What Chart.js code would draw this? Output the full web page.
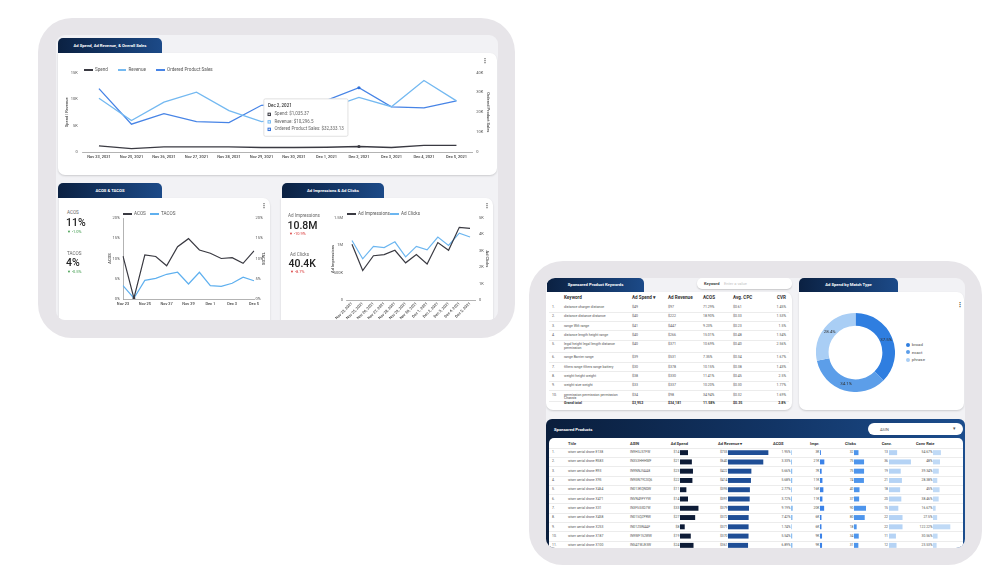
<!DOCTYPE html>
<html>
<head>
<meta charset="utf-8">
<script src="https://cdn.jsdelivr.net/npm/chart.js@4.4.1/dist/chart.umd.min.js"></script>
<style>
  html, body { margin: 0; padding: 0; background: #fff; }
  body { width: 1000px; height: 571px; position: relative; overflow: hidden; font-family: Roboto, "Noto Sans", sans-serif; color: #333; }
  .frame { position: absolute; background: #e7e5e9; border-radius: 34px; }
  .screen { position: absolute; background: #f2f2f5; border-radius: 9px; }
  .layer { position: absolute; left: 0; top: 0; width: 1000px; height: 571px; }
  #layerA { clip-path: inset(35px 502px 251px 56px round 9px); }
  #layerB { clip-path: inset(278px 35px 23px 546px round 9px); }
  .tab { position: absolute; height: 15px; background: linear-gradient(90deg, #0b2142, #1c4a88); color: #fff; font-weight: 700; font-size: 4.2px; line-height: 15px; text-align: center; border-radius: 5px 5px 0 0; }
  .card { position: absolute; background: #fff; border-radius: 0 7px 7px 7px; box-shadow: 0 1px 2px rgba(0,0,0,.16); }
  .t { position: absolute; white-space: nowrap; }
  .sep { position: absolute; height: 0.6px; background: #ececec; }
  canvas { position: absolute; }
</style>
</head>
<body>
<div class="frame" style="left:38px;top:18px;width:477px;height:320px"></div>
<div class="screen" style="left:56px;top:35px;width:442px;height:285px"></div>
<div class="frame" style="left:529px;top:261px;width:453px;height:304px"></div>
<div class="screen" style="left:546px;top:278px;width:419px;height:270px"></div>

<div id="layerA" class="layer">
  <div class="tab" style="left:58px;top:38px;width:104px">Ad Spend, Ad Revenue, &amp; Overall Sales</div>
  <div class="card" style="left:58px;top:53px;width:439px;height:122px"></div>
  <div class="tab" style="left:58px;top:183px;width:104px">ACOS &amp; TACOS</div>
  <div class="card" style="left:59px;top:198px;width:211px;height:140px"></div>
  <div class="tab" style="left:282px;top:183px;width:102px">Ad Impressions &amp; Ad Clicks</div>
  <div class="card" style="left:281px;top:198px;width:212px;height:140px"></div>
  <canvas id="c1" width="435" height="104" style="left:60px;top:62px"></canvas>
  <canvas id="c2" width="172" height="100" style="left:100px;top:208px"></canvas>
  <canvas id="c3" width="173" height="122" style="left:320px;top:208px"></canvas>
</div>

<div id="layerB" class="layer">
  <div class="tab" style="left:547px;top:278px;width:97px;height:14px;line-height:14px">Sponsored Product Keywords</div>
  <div class="card" style="left:546px;top:292px;width:246px;height:118px"></div>
  <div style="position:absolute;left:697px;top:278px;width:95px;height:11px;background:#fff;border-radius:5px;box-shadow:0 1px 1.5px rgba(0,0,0,.18)"></div>
  <div class="tab" style="left:799px;top:278px;width:99px;height:14px;line-height:14px">Ad Spend by Match Type</div>
  <div class="card" style="left:799px;top:292px;width:165px;height:118px"></div>
  <div style="position:absolute;left:546px;top:419px;width:419px;height:140px;border-radius:6px 6px 0 0;background:linear-gradient(90deg,#0a1e3c 0%,#123566 55%,#1c4d8d 100%)"></div>
  <div style="position:absolute;left:868px;top:423px;width:95px;height:12px;background:#fff;border-radius:6px"></div>
  <div style="position:absolute;left:549px;top:438px;width:414px;height:120px;background:#fff;border-radius:5px 5px 0 0"></div>
  <canvas id="c4" width="79" height="79" style="left:815.5px;top:312.5px"></canvas>
</div>

<script>
// ---- top chart: spend / revenue / ordered product sales
const salesDates = ['Nov 23, 2021', 'Nov 25, 2021', 'Nov 26, 2021', 'Nov 27, 2021', 'Nov 28, 2021', 'Nov 29, 2021',
                    'Nov 30, 2021', 'Dec 1, 2021', 'Dec 2, 2021', 'Dec 3, 2021', 'Dec 4, 2021', 'Dec 5, 2021'];
const spend = [1150, 650, 950, 950, 950, 850, 850, 900, 1035.37, 850, 1250, 1250];
const revenue = [10150, 5950, 9400, 11300, 7800, 5750, 6500, 8200, 10296.5, 8550, 13500, 9650];
const orderedSales = [31900, 14000, 19300, 15300, 14800, 23500, 24500, 26000, 32333.13, 22700, 22200, 25700];
const tooltipIndex = 8;

// ---- ACOS & TACOS
const acosDates = ['Nov 23', 'Nov 24', 'Nov 25', 'Nov 26', 'Nov 27', 'Nov 28', 'Nov 29',
                   'Nov 30', 'Dec 1', 'Dec 2', 'Dec 3', 'Dec 4', 'Dec 5'];
const acos = [10.6, 0.2, 10.9, 10.5, 8.2, 12.9, 14.9, 12.1, 11.3, 10.0, 10.2, 8.8, 11.9];
const tacos = [3.3, 0.2, 4.6, 5.1, 6.1, 6.6, 3.7, 6.6, 3.3, 3.1, 3.9, 5.4, 4.5];

// ---- impressions & clicks
const impressions = [1020000, 540000, 810000, 830000, 910000, 680000, 830000, 660000, 1050000, 910000, 1330000, 1310000];
const clicks = [3630, 2510, 3270, 3200, 3550, 2630, 3270, 3060, 3840, 3330, 4080, 3840];

// ---- match type donut
const matchTypes = ['broad', 'exact', 'phrase'];
const matchShare = [37.5, 34.1, 28.4];
const matchColors = ['#2f7ee0', '#5c9ee9', '#a9cef5'];

// ---- keyword table
const kwNames = ['distance charger distance', 'distance distance distance', 'range Wifi range', 'distance length height range',
                 'legal height legal length distance', 'range Barrier range', 'filters range filters range battery',
                 'weight height weight', 'weight size weight', 'permission permission permission'];
const kwNames2 = ['', '', '', '', 'permission', '', '', '', '', 'Chassis'];
const kwSpend = ['$49', '$40', '$41', '$40', '$40', '$39', '$30', '$38', '$33', '$34'];
const kwRevenue = ['$97', '$222', '$447', '$266', '$371', '$531', '$378', '$330', '$337', '$98'];
const kwAcos = ['71.29%', '18.90%', '9.23%', '15.01%', '10.69%', '7.35%', '10.15%', '11.41%', '10.20%', '34.94%'];
const kwCpc = ['$0.61', '$0.33', '$0.23', '$0.48', '$0.40', '$0.34', '$0.38', '$0.45', '$0.30', '$0.32'];
const kwCvr = ['1.45%', '1.53%', '1.5%', '1.54%', '2.56%', '1.67%', '1.43%', '2.5%', '1.77%', '1.69%'];
const kwTotal = ['$3,952', '$34,181', '11.58%', '$0.35', '2.8%'];

// ---- sponsored products table
const prodTitles = ['wiser aerial drone E138', 'wiser aerial drone R583', 'wiser aerial drone R93', 'wiser aerial drone X95',
                    'wiser aerial drone X464', 'wiser aerial drone X471', 'wiser aerial drone X31', 'wiser aerial drone X458',
                    'wiser aerial drone X253', 'wiser aerial drone X187', 'wiser aerial drone X100'];
const prodAsins = ['IN9H3J37FW', 'IN3S3HHHMF', 'IN9NNJ5AA8', 'IN9GN7YC0Q6', 'IN013KQNDW', 'INVN49FYYW',
                   'IN3FSG3D7W', 'IN01SQZPRW', 'IN01ZGNAAF', 'IN9WF152WW', 'INSATWJE3W'];
const prodSpend = [14, 21, 23, 22, 11, 14, 33, 27, 8, 19, 24];
const prodRevenue = [733, 640, 422, 414, 395, 391, 379, 372, 371, 370, 361];
const prodAcos = [1.95, 3.33, 5.66, 5.68, 2.77, 3.72, 9.19, 7.42, 1.74, 5.54, 6.89];
const prodImpr = [3, 21, 7, 11, 16, 11, 20, 6, 6, 9, 9];
const prodClicks = [32, 75, 75, 74, 40, 37, 90, 80, 18, 34, 31];
const prodConv = [13, 36, 19, 21, 18, 20, 15, 22, 22, 11, 12];
const prodConvRate = [54.67, 48, 39.34, 28.38, 45, 38.46, 16.67, 27.5, 122.22, 30.56, 23.53];

Chart.defaults.font.family = 'Roboto, "Noto Sans", sans-serif';
Chart.defaults.color = '#555';

var layerA = document.getElementById('layerA');
var layerB = document.getElementById('layerB');

// small helper for absolutely placed text, y is the text's vertical centre
function put(layer, str, x, y, size, o) {
    o = o || {};
    const d = document.createElement('div');
    const lh = size * 1.25;
    d.className = 't';
    d.textContent = str;
    d.style.fontSize = size + 'px';
    d.style.lineHeight = lh + 'px';
    d.style.top = (y - lh / 2) + 'px';
    if (o.right) d.style.right = (1000 - x) + 'px';
    else d.style.left = x + 'px';
    d.style.color = o.color || '#555';
    if (o.weight) d.style.fontWeight = o.weight;
    layer.appendChild(d);
    return d;
}

function legendKey(layer, x, y, color, label) {
    const l = document.createElement('div');
    l.style.cssText = 'position:absolute;left:' + x + 'px;top:' + (y - 0.65) + 'px;width:8.5px;height:1.3px;background:' + color;
    layer.appendChild(l);
    put(layer, label, x + 11, y, 4.6, { color: '#555' });
}

function hideGrid() { return { display: false, drawTicks: false }; }

// ---------------- chart 1
legendKey(layerA, 84, 70, '#3a3a42', 'Spend');
legendKey(layerA, 117.5, 70, '#74b9f1', 'Revenue');
legendKey(layerA, 156, 70, '#4784e6', 'Ordered Product Sales');
put(layerA, '⋮', 482, 60, 6, { color: '#333', weight: 700 });

Chart.Tooltip.positioners.dash = function (items) {
    const p = Chart.Tooltip.positioners.average.call(this, items);
    if (!p) return false;
    return { x: p.x, y: p.y + 7 };
};

function kFmt(v) { return v === 0 ? '0' : (v / 1000) + 'K'; }
function dotAt(idx, r) { return ctx => ctx.dataIndex === idx ? r : 0; }

var chart1 = new Chart(document.getElementById('c1'), {
    type: 'line',
    data: {
        labels: salesDates,
        datasets: [
            { label: 'Spend', data: spend, borderColor: '#3a3a42', backgroundColor: '#3a3a42', yAxisID: 'y', pointRadius: dotAt(tooltipIndex, 1.6) },
            { label: 'Revenue', data: revenue, borderColor: '#74b9f1', backgroundColor: '#74b9f1', yAxisID: 'y', pointRadius: 0 },
            { label: 'Ordered Product Sales', data: orderedSales, borderColor: '#4784e6', backgroundColor: '#2f6fd8', yAxisID: 'y1', pointRadius: dotAt(tooltipIndex, 1.6) }
        ]
    },
    options: {
        responsive: false,
        animation: false,
        events: [],
        layout: { padding: { top: 10.5, left: 0, right: 0, bottom: 0 } },
        elements: { line: { borderWidth: 1.3, tension: 0 }, point: { borderWidth: 0 } },
        plugins: {
            legend: { display: false },
            tooltip: {
                position: 'dash',
                backgroundColor: '#fff',
                borderColor: '#d9d9d9',
                borderWidth: 0.8,
                titleColor: '#333',
                bodyColor: '#666',
                titleFont: { size: 4.5, weight: '500' },
                bodyFont: { size: 4.5 },
                padding: 4.2,
                caretSize: 0,
                caretPadding: 11,
                cornerRadius: 1.5,
                boxWidth: 2.4,
                boxHeight: 2.4,
                boxPadding: 2,
                titleMarginBottom: 3.2,
                bodySpacing: 2.1,
                callbacks: {
                    label: ctx => ctx.dataset.label + ': $' + ctx.parsed.y.toLocaleString('en-US'),
                    labelColor: ctx => ({ borderColor: ctx.dataset.backgroundColor, backgroundColor: ctx.dataset.backgroundColor, borderWidth: 0 })
                }
            }
        },
        scales: {
            x: {
                offset: true,
                grid: hideGrid(),
                border: { display: true, color: '#a0a0a0', width: 0.8 },
                ticks: { autoSkip: false, maxRotation: 0, padding: 2.3, font: { size: 4, weight: '500' }, color: '#444' },
                afterFit: s => { s.height = 14; }
            },
            y: {
                position: 'left', min: 0, max: 15000,
                grid: hideGrid(), border: { display: false },
                ticks: { stepSize: 5000, padding: 5, font: { size: 4 }, color: '#555', callback: kFmt },
                title: { display: true, text: 'Spend | Revenue', font: { size: 4, weight: '500' }, color: '#444', padding: { top: 5, bottom: 0 } },
                afterFit: s => { s.width = 22.7; }
            },
            y1: {
                position: 'right', min: 0, max: 40000,
                grid: hideGrid(), border: { display: false },
                ticks: { stepSize: 10000, padding: 3.5, font: { size: 4 }, color: '#555', callback: kFmt },
                title: { display: true, text: 'Ordered Product Sales', font: { size: 4, weight: '500' }, color: '#444', padding: { top: 5, bottom: 0 } },
                afterFit: s => { s.width = 22.3; }
            }
        }
    }
});
chart1.tooltip.setActiveElements([
    { datasetIndex: 0, index: tooltipIndex },
    { datasetIndex: 1, index: tooltipIndex },
    { datasetIndex: 2, index: tooltipIndex }
], { x: 0, y: 0 });
chart1.update();

// ---------------- chart 2 (ACOS & TACOS)
put(layerA, 'ACOS', 67, 213, 4.6, { color: '#666' });
put(layerA, '11%', 66, 223, 10.5, { color: '#222', weight: 500 });
put(layerA, '▼ -1.0%', 67, 231, 4, { color: '#3c9a4a' });
put(layerA, 'TACOS', 67, 254, 4.6, { color: '#666' });
put(layerA, '4%', 66, 263, 10.5, { color: '#222', weight: 500 });
put(layerA, '▼ -0.5%', 67, 271, 4, { color: '#3c9a4a' });
legendKey(layerA, 123, 214, '#3a3a42', 'ACOS');
legendKey(layerA, 150, 214, '#5fb0ef', 'TACOS');
put(layerA, '⋮', 261, 205, 6, { color: '#333', weight: 700 });

function pctTicks(pad) {
    return { stepSize: 5, padding: pad, font: { size: 4 }, color: '#555', callback: v => v + '%' };
}

new Chart(document.getElementById('c2'), {
    type: 'line',
    data: {
        labels: acosDates,
        datasets: [
            { label: 'ACOS', data: acos, borderColor: '#3a3a42', backgroundColor: '#3a3a42', yAxisID: 'y', pointRadius: dotAt(1, 1.4) },
            { label: 'TACOS', data: tacos, borderColor: '#5fb0ef', backgroundColor: '#5fb0ef', yAxisID: 'y1', pointRadius: 0 }
        ]
    },
    options: {
        responsive: false, animation: false, events: [],
        layout: { padding: { top: 10, left: 0, right: 0, bottom: 0 } },
        elements: { line: { borderWidth: 1.2, tension: 0 }, point: { borderWidth: 0 } },
        plugins: { legend: { display: false }, tooltip: { enabled: false } },
        scales: {
            x: {
                offset: false,
                grid: hideGrid(),
                border: { display: true, color: '#a0a0a0', width: 0.8 },
                ticks: {
                    autoSkip: false, maxRotation: 0, padding: 2.6, font: { size: 3.9, weight: '500' }, color: '#444',
                    callback: function (v, i) { return i % 2 === 0 ? this.getLabelForValue(v) : ''; }
                },
                afterFit: s => { s.height = 9; }
            },
            y: {
                position: 'left', min: 0, max: 20,
                grid: hideGrid(), border: { display: true, color: '#a0a0a0', width: 0.8 },
                ticks: pctTicks(3),
                title: { display: true, text: 'ACOS', font: { size: 4, weight: '500' }, color: '#444', padding: { top: 7.6, bottom: 0 } },
                afterFit: s => { s.width = 23; }
            },
            y1: {
                position: 'right', min: 0, max: 20,
                grid: hideGrid(), border: { display: false },
                ticks: pctTicks(1.5),
                title: { display: true, text: 'TACOS', font: { size: 4, weight: '500' }, color: '#444', padding: { top: 6.6, bottom: 0 } },
                afterFit: s => { s.width = 18; }
            }
        }
    }
});

// ---------------- chart 3 (impressions & clicks)
put(layerA, 'Ad Impressions', 288, 216, 4.6, { color: '#666' });
put(layerA, '10.8M', 287.5, 226, 10.5, { color: '#222', weight: 500 });
put(layerA, '▼ -10.9%', 289, 233.5, 4, { color: '#d93a3a' });
put(layerA, 'Ad Clicks', 290, 255, 4.6, { color: '#666' });
put(layerA, '40.4K', 288.5, 264, 10.5, { color: '#222', weight: 500 });
put(layerA, '▼ -8.7%', 290, 271.5, 4, { color: '#d93a3a' });
legendKey(layerA, 347, 214, '#3a3a42', 'Ad Impressions');
legendKey(layerA, 390, 214, '#6cb6f0', 'Ad Clicks');
put(layerA, '⋮', 483.5, 205, 6, { color: '#333', weight: 700 });

function imprFmt(v) {
    if (v === 0) return '0';
    if (v >= 1000000) return (v / 1000000) + 'M';
    return (v / 1000) + 'K';
}

new Chart(document.getElementById('c3'), {
    type: 'line',
    data: {
        labels: salesDates,
        datasets: [
            { label: 'Ad Impressions', data: impressions, borderColor: '#3a3a42', yAxisID: 'y', pointRadius: 0 },
            { label: 'Ad Clicks', data: clicks, borderColor: '#6cb6f0', yAxisID: 'y1', pointRadius: 0 }
        ]
    },
    options: {
        responsive: false, animation: false, events: [],
        layout: { padding: { top: 10, left: 0, right: 0, bottom: 0 } },
        elements: { line: { borderWidth: 1.2, tension: 0 } },
        plugins: { legend: { display: false }, tooltip: { enabled: false } },
        scales: {
            x: {
                offset: true,
                grid: hideGrid(),
                border: { display: true, color: '#a0a0a0', width: 0.8 },
                ticks: { autoSkip: false, minRotation: 45, maxRotation: 45, padding: 1.5, font: { size: 3.8, weight: '500' }, color: '#444' },
                afterFit: s => { s.height = 30; }
            },
            y: {
                position: 'left', min: 0, max: 1500000,
                grid: hideGrid(), border: { display: false },
                ticks: { stepSize: 500000, padding: 3.6, font: { size: 4 }, color: '#555', callback: imprFmt },
                title: { display: true, text: 'Ad Impressions', font: { size: 4, weight: '500' }, color: '#444', padding: { top: 10.1, bottom: 0 } },
                afterFit: s => { s.width = 26.6; }
            },
            y1: {
                position: 'right', min: 0, max: 5000,
                grid: hideGrid(), border: { display: false },
                ticks: { stepSize: 1000, padding: 3.6, font: { size: 4 }, color: '#555', callback: kFmt },
                title: { display: true, text: 'Ad Clicks', font: { size: 4, weight: '500' }, color: '#444', padding: { top: 3.6, bottom: 0 } },
                afterFit: s => { s.width = 17.6; }
            }
        }
    }
});

// ---------------- keyword table
put(layerB, 'Keyword', 704, 283.5, 4, { color: '#444', weight: 700 });
put(layerB, 'Enter a value', 724, 283.5, 4, { color: '#c4c4c4' });

var kwHeadY = 297.7;
put(layerB, 'Keyword', 564, kwHeadY, 4.6, { color: '#333', weight: 700 });
put(layerB, 'Ad Spend ▾', 632, kwHeadY, 4.6, { color: '#333', weight: 700 });
put(layerB, 'Ad Revenue', 668, kwHeadY, 4.6, { color: '#333', weight: 700 });
put(layerB, 'ACOS', 703, kwHeadY, 4.6, { color: '#333', weight: 700 });
put(layerB, 'Avg. CPC', 733, kwHeadY, 4.6, { color: '#333', weight: 700 });
put(layerB, 'CVR', 786, kwHeadY, 4.6, { color: '#333', weight: 700, right: true });

var kwRowY = [307, 316.3, 325.7, 335, 344.3, 357.3, 366.7, 376, 385.3, 394.7];
var kwSepY = [311.7, 321, 330.3, 339.7, 352, 362, 371.3, 380.7, 390, 401];
kwNames.forEach((name, i) => {
    const y = kwRowY[i];
    put(layerB, (i + 1) + '.', 552, y, 3.5);
    put(layerB, name, 564, y, 3.5);
    if (kwNames2[i]) put(layerB, kwNames2[i], 564, y + 3.8, 3.5);
    put(layerB, kwSpend[i], 632, y, 3.5);
    put(layerB, kwRevenue[i], 668, y, 3.5);
    put(layerB, kwAcos[i], 703, y, 3.5);
    put(layerB, kwCpc[i], 733, y, 3.5);
    put(layerB, kwCvr[i], 786, y, 3.5, { right: true });
});
kwSepY.forEach(y => {
    const s = document.createElement('div');
    s.className = 'sep';
    s.style.cssText += 'left:549px;width:240px;top:' + y + 'px';
    layerB.appendChild(s);
});
var totY = 403.7;
put(layerB, 'Grand total', 564, totY, 3.6, { color: '#333', weight: 700 });
put(layerB, kwTotal[0], 632, totY, 3.6, { color: '#333', weight: 700 });
put(layerB, kwTotal[1], 668, totY, 3.6, { color: '#333', weight: 700 });
put(layerB, kwTotal[2], 703, totY, 3.6, { color: '#333', weight: 700 });
put(layerB, kwTotal[3], 733, totY, 3.6, { color: '#333', weight: 700 });
put(layerB, kwTotal[4], 786, totY, 3.6, { color: '#333', weight: 700, right: true });

// ---------------- donut
put(layerB, '⋮', 956.5, 304, 6, { color: '#333', weight: 700 });
matchTypes.forEach((m, i) => {
    const y = 345 + i * 7.3;
    const dot = document.createElement('div');
    dot.style.cssText = 'position:absolute;left:905.7px;top:' + (y - 2) + 'px;width:4px;height:4px;border-radius:50%;background:' + matchColors[i];
    layerB.appendChild(dot);
    put(layerB, m, 911.7, y, 4.4, { color: '#555' });
});

const sliceLabels = {
    id: 'sliceLabels',
    afterDatasetsDraw(chart) {
        const ctx = chart.ctx;
        const meta = chart.getDatasetMeta(0);
        ctx.save();
        ctx.font = '4.4px Roboto';
        ctx.fillStyle = '#333';
        ctx.textAlign = 'center';
        ctx.textBaseline = 'middle';
        meta.data.forEach((arc, i) => {
            const p = arc.tooltipPosition();
            ctx.fillText(matchShare[i].toFixed(1) + '%', p.x, p.y);
        });
        ctx.restore();
    }
};

new Chart(document.getElementById('c4'), {
    type: 'doughnut',
    data: { labels: matchTypes, datasets: [{ data: matchShare, backgroundColor: matchColors, borderWidth: 0, hoverOffset: 0 }] },
    options: {
        responsive: false, animation: false, events: [],
        cutout: '68%',
        layout: { padding: 0 },
        plugins: { legend: { display: false }, tooltip: { enabled: false } }
    },
    plugins: [sliceLabels]
});

// ---------------- sponsored products table
put(layerB, 'Sponsored Products', 554, 430, 4.2, { color: '#fff', weight: 700 });
put(layerB, 'ASIN', 880, 429, 4, { color: '#555' });
put(layerB, '▾', 953, 429, 4.5, { color: '#555' });

var prHeadY = 443.3;
[['Title', 568], ['ASIN', 630], ['Ad Spend', 670.7], ['Ad Revenue ▾', 718], ['ACOS', 773],
 ['Impr.', 810], ['Clicks', 845], ['Conv.', 881.7], ['Conv Rate', 916]].forEach(h => {
    put(layerB, h[0], h[1], prHeadY, 4, { color: '#333', weight: 700 });
});

var prRow0 = 452.3, prPitch = 9.3;
prodTitles.forEach((t, i) => {
    const y = prRow0 + i * prPitch;
    put(layerB, (i + 1) + '.', 552, y, 3.4);
    put(layerB, t, 568, y, 3.4);
    put(layerB, prodAsins[i], 630, y, 3.4);
    put(layerB, '$' + prodSpend[i], 679.3, y, 3.4, { right: true });
    put(layerB, '$' + prodRevenue[i], 727.5, y, 3.4, { right: true });
    put(layerB, prodAcos[i].toFixed(2) + '%', 790.5, y, 3.4, { right: true });
    put(layerB, prodImpr[i] + 'K', 819.5, y, 3.4, { right: true });
    put(layerB, String(prodClicks[i]), 853.5, y, 3.4, { right: true });
    put(layerB, String(prodConv[i]), 888, y, 3.4, { right: true });
    put(layerB, (Math.round(prodConvRate[i] * 100) / 100) + '%', 932.5, y, 3.4, { right: true });
    const s = document.createElement('div');
    s.className = 'sep';
    s.style.cssText += 'left:549px;width:414px;top:' + (y - prPitch / 2) + 'px';
    layerB.appendChild(s);
});

// one tiny horizontal bar chart per numeric column, rows line up with the table
function rowBars(left, width, values, color, maxVal) {
    const cv = document.createElement('canvas');
    cv.width = width;
    cv.height = Math.round(values.length * prPitch);
    cv.style.left = left + 'px';
    cv.style.top = (prRow0 - prPitch / 2) + 'px';
    layerB.appendChild(cv);
    new Chart(cv, {
        type: 'bar',
        data: { labels: values.map((v, i) => i + 1), datasets: [{ data: values, backgroundColor: color, barThickness: 4.3, borderWidth: 0 }] },
        options: {
            indexAxis: 'y', responsive: false, animation: false, events: [],
            layout: { padding: 0 },
            plugins: { legend: { display: false }, tooltip: { enabled: false } },
            scales: { x: { display: false, min: 0, max: maxVal }, y: { display: false } }
        }
    });
}
rowBars(680, 25, prodSpend, '#0d1b36', 45.5);
rowBars(728, 45, prodRevenue, '#1f4e96', 824);
rowBars(791, 4, prodAcos, '#8fbff0', 25);
rowBars(820, 8, prodImpr, '#3b82e8', 42);
rowBars(854, 20, prodClicks, '#4e95ec', 154);
rowBars(889, 30, prodConv, '#b5d3f5', 50);
rowBars(933, 25, prodConvRate, '#c0daf6', 180);
</script>
</body>
</html>
